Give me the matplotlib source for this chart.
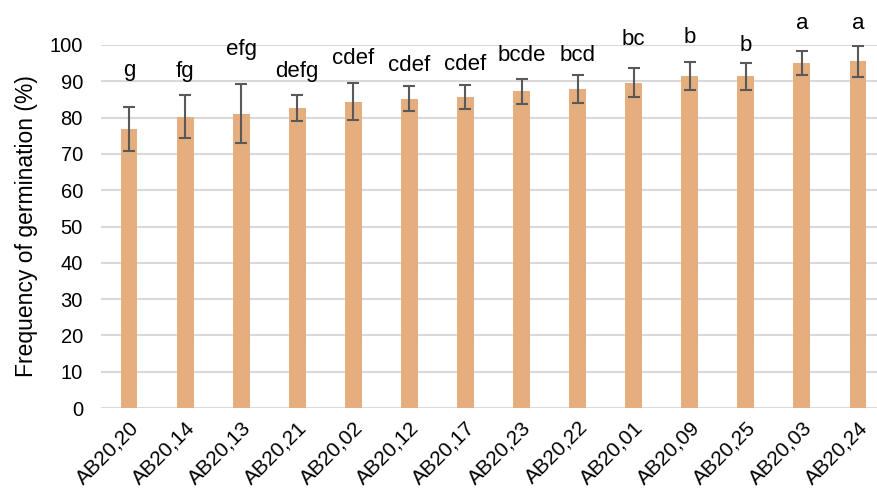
import matplotlib.pyplot as plt
import numpy as np

plt.rcParams['font.family'] = ['Liberation Sans', 'DejaVu Sans']

lines = ['AB20,20', 'AB20,14', 'AB20,13', 'AB20,21', 'AB20,02', 'AB20,12', 'AB20,17',
         'AB20,23', 'AB20,22', 'AB20,01', 'AB20,09', 'AB20,25', 'AB20,03', 'AB20,24']
germination = [76.8, 80.3, 81.1, 82.7, 84.4, 85.2, 85.6, 87.2, 87.9, 89.6, 91.4, 91.4, 95.0, 95.5]
sd = [6.0, 5.8, 8.1, 3.5, 5.0, 3.4, 3.3, 3.5, 3.8, 4.0, 3.9, 3.7, 3.3, 4.2]
letters = ['g', 'fg', 'efg', 'defg', 'cdef', 'cdef', 'cdef', 'bcde', 'bcd', 'bc', 'b', 'b', 'a', 'a']
# where Excel left each significance label (baseline, in % units)
letter_y = [91.5, 91.3, 97.2, 91.3, 94.9, 92.9, 93.1, 95.7, 95.7, 100.0, 100.6, 98.4, 104.3, 104.3]

fig = plt.figure(figsize=(8.78, 4.95), dpi=100)
ax = fig.add_axes([101 / 878, 87 / 495, 785 / 878, 363 / 495])

x = np.arange(len(lines))
ax.bar(x, germination, width=0.3, color='#e4ae7f', zorder=2)
ax.errorbar(x, germination, yerr=sd, fmt='none', ecolor='#595959',
            elinewidth=1.5, capsize=4, capthick=1.5, zorder=3)

for xi, lab, ly in zip(x, letters, letter_y):
    ax.text(xi, ly, lab, ha='center', va='baseline', fontsize=16, clip_on=False)

ax.set_ylim(0, 100)
ax.set_xlim(-0.5, len(lines) - 0.5)
ax.set_yticks(range(0, 101, 10))
ax.yaxis.grid(True, color='#d9d9d9', linewidth=1.5, zorder=0)
ax.set_axisbelow(True)
for s in ax.spines.values():
    s.set_visible(False)
ax.tick_params(axis='y', length=0, labelsize=14.5, pad=13)
ax.tick_params(axis='x', length=0, labelsize=15, pad=7)
ax.set_xticks(x)
ax.set_xticklabels(lines, rotation=45, ha='right', rotation_mode='anchor')
ax.set_ylabel('Frequency of germination (%)', fontsize=16.5)
ax.yaxis.set_label_coords(-63 / 785, 0.5)

plt.savefig('out.png', dpi=100)
